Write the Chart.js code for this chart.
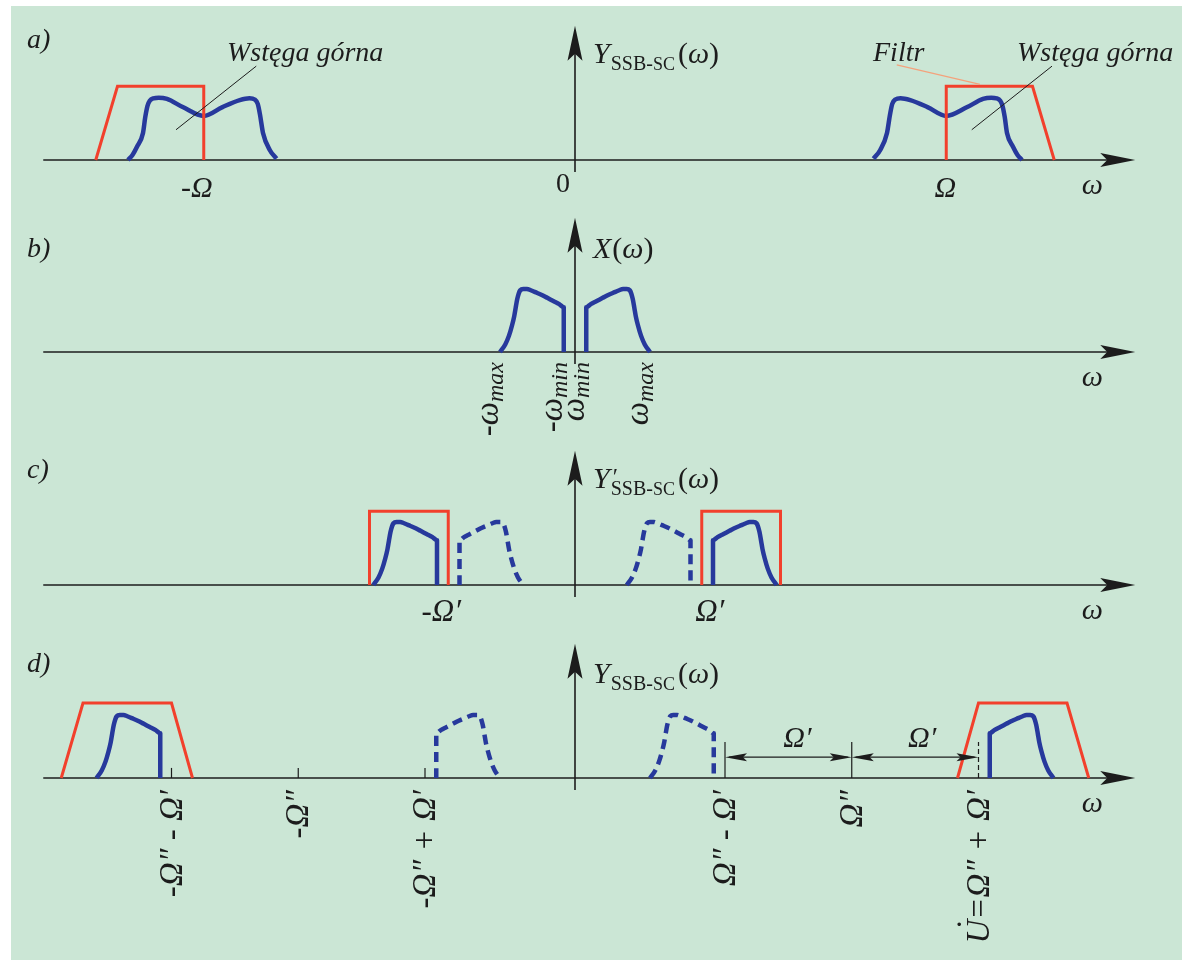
<!DOCTYPE html>
<html lang="pl"><head><meta charset="utf-8"><title>Widmo SSB-SC</title>
<script src="https://cdn.jsdelivr.net/npm/chart.js@4.4.1/dist/chart.umd.min.js"></script>
<style>
html,body{margin:0;padding:0;background:#fff;}
#wrap{position:relative;width:1182px;height:960px;overflow:hidden;background:#fff;}
#bg{position:absolute;left:11px;top:6px;width:1171px;height:954px;background:#cbe6d5;}
canvas.cv{position:absolute;left:0;}
</style></head><body>
<div id="wrap"><div id="bg"></div>
<canvas id="pa" class="cv"></canvas>
<canvas id="pb" class="cv"></canvas>
<canvas id="pc" class="cv"></canvas>
<canvas id="pd" class="cv"></canvas>
</div>
<script>
// ================= DATA (frequencies in units of ω_max, amplitudes normalised to X peak) =================
const W_MIN = 0.15;          // ω_min
const W_MAX = 1.00;          // ω_max
const CARRIER_A = 4.95;      // Ω   (panel a)
const CARRIER_1 = 1.69;      // Ω′  (panel c)
const CARRIER_2 = 3.69;      // Ω″  (panel d)

// baseband spectrum X(ω), ω > 0  (panel b)
const X_FREQ = [0.15, 0.15, 0.21, 0.29, 0.37, 0.45, 0.53, 0.59, 0.64, 0.69, 0.73, 0.75, 0.77, 0.79, 0.81, 0.84, 0.88, 0.93, 1.00];
const X_AMP  = [0.00, 0.71, 0.76, 0.81, 0.86, 0.91, 0.95, 0.98, 1.00, 1.00, 0.98, 0.93, 0.84, 0.71, 0.57, 0.42, 0.26, 0.12, 0.00];

// spectrum around the carrier Ω in panel a (offset from Ω)
const M_FREQ = [-0.97, -0.88, -0.79, -0.75, -0.72, -0.68, -0.61, -0.48, -0.25, 0.00, 0.28, 0.49, 0.60, 0.67, 0.72, 0.75, 0.78, 0.81, 0.89, 0.95, 1.01];
const M_AMP  = [ 0.02,  0.16,  0.43,  0.72,  0.89,  0.96,  0.98,  0.95,  0.84, 0.70, 0.84, 0.97, 0.99, 0.98, 0.94, 0.86, 0.68, 0.43, 0.21, 0.08, 0.00];

// filter characteristics (offset from the carrier they belong to)
const FILTER_A_FREQ = [0.00, 0.00, 1.15, 1.44];
const FILTER_A_AMP  = [0.00, 1.17, 1.17, 0.00];
const FILTER_C_FREQ = [0.00, 0.00, 1.05, 1.05];
const FILTER_C_AMP  = [0.00, 1.17, 1.17, 0.00];
const FILTER_D_FREQ = [-0.28, 0.00, 1.18, 1.47];
const FILTER_D_AMP  = [0.00, 1.19, 1.19, 0.00];

// tick labels
const TICK_POS_A = [-CARRIER_A, 0, CARRIER_A];
const TICK_LABELS_A = ['-Ω', '0', 'Ω'];
const TICK_POS_B = [-W_MAX, -W_MIN, W_MIN, W_MAX];
const TICK_LABELS_B = ['-ω_max', '-ω_min', 'ω_min', 'ω_max'];
const TICK_POS_C = [-CARRIER_1, CARRIER_1];
const TICK_LABELS_C = ['-Ω′', 'Ω′'];
const TICK_POS_D = [-(CARRIER_2 + CARRIER_1), -CARRIER_2, -CARRIER_2 + CARRIER_1, CARRIER_2 - CARRIER_1, CARRIER_2, CARRIER_2 + CARRIER_1];
const TICK_LABELS_D = ['-Ω″ - Ω′', '-Ω″', '-Ω″ + Ω′', 'Ω″ - Ω′', 'Ω″', 'U=Ω″ + Ω′'];
const TITLES = ['a)', 'b)', 'c)', 'd)'];
const ANNOT_WSTEGA = 'Wstęga górna';
const ANNOT_FILTR = 'Filtr';
const DIM_LABEL = 'Ω′';

// ================= LAYOUT / STYLE =================
const PAGE_W = 1182, ZERO_PX = 575, PX_PER_W = 75, PX_PER_A = 63;
const PANEL = {
  a: {top: 0,   h: 205, base: 160},
  b: {top: 205, h: 245, base: 352},
  c: {top: 450, h: 185, base: 585},
  d: {top: 635, h: 325, base: 778}
};
const AXIS_W_FROM = -7.09, AXIS_W_TO = 7.47, AXIS_A_TOP = 2.13, AXIS_A_BOTTOM = -0.19;
const BLUE = '#27399c', RED = '#f2402c', INK = '#1c1c1c', ORANGE = '#f4a27c';
const SERIF = '"Liberation Serif","DejaVu Serif",serif';
const I = n => `italic ${n}px ${SERIF}`;
const R = n => `${n}px ${SERIF}`;

function shift(freqs, amps, center, sign) {
  const pts = freqs.map((f, i) => ({x: center + sign * f, y: amps[i]}));
  return sign < 0 ? pts.reverse() : pts;
}
function blueDs(pts, dashed) {
  return {data: pts, borderColor: BLUE, borderWidth: 4.5, cubicInterpolationMode: 'monotone',
    borderDash: dashed ? [10, 6] : [], pointRadius: 0, fill: false, borderJoinStyle: 'round'};
}
function redDs(pts) {
  return {data: pts, borderColor: RED, borderWidth: 3, tension: 0, pointRadius: 0, fill: false, borderJoinStyle: 'miter'};
}

// rich text: parts = [{t, f, dy, dx, ox, adv}]
function rich(ctx, x, y, parts, align) {
  ctx.save();
  let w = 0;
  parts.forEach(p => { ctx.font = p.f; p.w = ctx.measureText(p.t).width; if (p.adv !== false) w += p.w + (p.dx || 0); });
  let sx = x + (align === 'center' ? -w / 2 : align === 'right' ? -w : 0);
  ctx.textBaseline = 'alphabetic'; ctx.textAlign = 'left'; ctx.fillStyle = INK;
  parts.forEach(p => {
    ctx.font = p.f;
    ctx.fillText(p.t, sx + (p.dx || 0) + (p.ox || 0), y + (p.dy || 0));
    if (p.adv !== false) sx += p.w + (p.dx || 0);
  });
  ctx.restore();
}
function rotRich(ctx, x, y, parts) {
  ctx.save(); ctx.translate(x, y); ctx.rotate(-Math.PI / 2);
  rich(ctx, 0, 0, parts, 'right'); ctx.restore();
}
function arrowHead(ctx, tx, ty, dx, dy, len, half, notch) {
  const bx = tx - dx * len, by = ty - dy * len, px = -dy, py = dx;
  ctx.beginPath(); ctx.moveTo(tx, ty);
  ctx.lineTo(bx + px * half, by + py * half);
  ctx.lineTo(tx - dx * (len - notch), ty - dy * (len - notch));
  ctx.lineTo(bx - px * half, by - py * half);
  ctx.closePath(); ctx.fill();
}
function seg(ctx, x1, y1, x2, y2) { ctx.beginPath(); ctx.moveTo(x1, y1); ctx.lineTo(x2, y2); ctx.stroke(); }

function drawAxes(c) {
  const ctx = c.ctx, X = c.scales.x, Y = c.scales.y;
  const y0 = Y.getPixelForValue(0), x0 = X.getPixelForValue(0);
  const xl = X.getPixelForValue(AXIS_W_FROM), xr = X.getPixelForValue(AXIS_W_TO);
  const yt = Y.getPixelForValue(AXIS_A_TOP), yb = Y.getPixelForValue(AXIS_A_BOTTOM);
  ctx.save(); ctx.strokeStyle = INK; ctx.fillStyle = INK; ctx.lineWidth = 1.6;
  seg(ctx, xl, y0, xr - 25, y0);
  arrowHead(ctx, xr, y0, 1, 0, 35, 7, 7);
  seg(ctx, x0, yb, x0, yt + 25);
  arrowHead(ctx, x0, yt, 0, -1, 35, 7.5, 7);
  ctx.restore();
}
function ylabel(ctx, x, y, prime, main) {
  const parts = [{t: main === 'X' ? 'X' : 'Y', f: I(30)}];
  if (main === 'X') {
    parts.push({t: '(', f: R(30), dx: 1}, {t: 'ω', f: I(30)}, {t: ')', f: R(30)});
  } else {
    if (prime) parts.push({t: '′', f: R(24), dy: -4, ox: 3, adv: false});
    parts.push({t: 'SSB-', f: R(20), dy: 7, dx: 1}, {t: 'SC', f: R(18), dy: 7},
               {t: '(', f: R(30), dx: 3}, {t: 'ω', f: I(30)}, {t: ')', f: R(30)});
  }
  rich(ctx, x, y, parts, 'left');
}
function partsFromLabel(s, big, sub) {
  const k = s.indexOf('_');
  if (k < 0) return [{t: s, f: I(big)}];
  return [{t: s.slice(0, k), f: I(big)}, {t: s.slice(k + 1), f: I(sub), dy: 5}];
}
function partsD(s, size) {
  // the letter U carries a dot above it
  if (s[0] === 'U') return [{t: 'U', f: I(size)}, {t: '˙', f: I(size), adv: false, ox: -12, dy: -9}, {t: s.slice(1), f: I(size)}];
  return [{t: s, f: I(size)}];
}

function makeChart(id, panel, datasets, decor) {
  const cv = document.getElementById(id);
  cv.width = PAGE_W; cv.height = panel.h; cv.style.top = panel.top + 'px';
  return new Chart(cv, {
    type: 'line',
    data: {datasets},
    options: {
      responsive: false, animation: false, devicePixelRatio: 1, events: [],
      layout: {padding: 0},
      plugins: {legend: {display: false}, tooltip: {enabled: false}, title: {display: false}},
      scales: {
        x: {type: 'linear', display: false, min: -ZERO_PX / PX_PER_W, max: (PAGE_W - ZERO_PX) / PX_PER_W},
        y: {type: 'linear', display: false, min: -(panel.top + panel.h - panel.base) / PX_PER_A, max: (panel.base - panel.top) / PX_PER_A}
      },
      elements: {point: {radius: 0}}
    },
    plugins: [{id: 'decor', beforeDatasetsDraw(c) { drawAxes(c); }, afterDatasetsDraw(c) { decor(c, c.ctx, c.scales.x, c.scales.y, panel); }}]
  });
}

// ---------- panel a ----------
makeChart('pa', PANEL.a, [
  redDs(shift(FILTER_A_FREQ, FILTER_A_AMP, -CARRIER_A, -1)),
  redDs(shift(FILTER_A_FREQ, FILTER_A_AMP, CARRIER_A, 1)),
  blueDs(shift(M_FREQ, M_AMP, -CARRIER_A, -1), false),
  blueDs(shift(M_FREQ, M_AMP, CARRIER_A, 1), false)
], (c, ctx, X, Y, p) => {
  const L = v => v - p.top;
  ctx.save(); ctx.lineWidth = 1; ctx.strokeStyle = INK;
  seg(ctx, X.getPixelForValue(-CARRIER_A + 0.70), Y.getPixelForValue(1.49), X.getPixelForValue(-CARRIER_A - 0.37), Y.getPixelForValue(0.48));
  seg(ctx, X.getPixelForValue(CARRIER_A + 1.41), Y.getPixelForValue(1.49), X.getPixelForValue(CARRIER_A + 0.34), Y.getPixelForValue(0.48));
  ctx.strokeStyle = ORANGE; ctx.lineWidth = 1.3;
  seg(ctx, X.getPixelForValue(CARRIER_A - 0.66), Y.getPixelForValue(1.51), X.getPixelForValue(CARRIER_A + 0.45), Y.getPixelForValue(1.20));
  ctx.restore();
  rich(ctx, 27, L(48), [{t: TITLES[0], f: I(28)}], 'left');
  ylabel(ctx, X.getPixelForValue(0) + 18, L(63), false, 'Y');
  const offs = [-7, -12, -1];
  TICK_POS_A.forEach((w, i) => rich(ctx, X.getPixelForValue(w) + offs[i], L(i === 1 ? 192 : 197),
    [{t: TICK_LABELS_A[i], f: i === 1 ? R(28) : I(30)}], 'center'));
  rich(ctx, X.getPixelForValue(AXIS_W_TO) - 43, L(194), [{t: 'ω', f: I(30)}], 'center');
  rich(ctx, 227, L(61), [{t: ANNOT_WSTEGA, f: I(28)}], 'left');
  rich(ctx, 1017, L(61), [{t: ANNOT_WSTEGA, f: I(28)}], 'left');
  rich(ctx, 873, L(61), [{t: ANNOT_FILTR, f: I(28)}], 'left');
});

// ---------- panel b ----------
makeChart('pb', PANEL.b, [
  blueDs(shift(X_FREQ, X_AMP, 0, -1), false),
  blueDs(shift(X_FREQ, X_AMP, 0, 1), false)
], (c, ctx, X, Y, p) => {
  const L = v => v - p.top;
  rich(ctx, 27, L(257), [{t: TITLES[1], f: I(28)}], 'left');
  ylabel(ctx, X.getPixelForValue(0) + 18, L(258), false, 'X');
  rich(ctx, X.getPixelForValue(AXIS_W_TO) - 43, L(386), [{t: 'ω', f: I(30)}], 'center');
  TICK_POS_B.forEach((w, i) => rotRich(ctx, X.getPixelForValue(w) - 2, L(362), partsFromLabel(TICK_LABELS_B[i], 33, 24)));
});

// ---------- panel c ----------
makeChart('pc', PANEL.c, [
  redDs(shift(FILTER_C_FREQ, FILTER_C_AMP, -CARRIER_1, -1)),
  redDs(shift(FILTER_C_FREQ, FILTER_C_AMP, CARRIER_1, 1)),
  blueDs(shift(X_FREQ, X_AMP, -CARRIER_1, -1), false),
  blueDs(shift(X_FREQ, X_AMP, -CARRIER_1, 1), true),
  blueDs(shift(X_FREQ, X_AMP, CARRIER_1, -1), true),
  blueDs(shift(X_FREQ, X_AMP, CARRIER_1, 1), false)
], (c, ctx, X, Y, p) => {
  const L = v => v - p.top;
  rich(ctx, 27, L(478), [{t: TITLES[2], f: I(28)}], 'left');
  ylabel(ctx, X.getPixelForValue(0) + 18, L(488), true, 'Y');
  const offs = [-7, 8];
  TICK_POS_C.forEach((w, i) => rich(ctx, X.getPixelForValue(w) + offs[i], L(621), [{t: TICK_LABELS_C[i], f: I(31)}], 'center'));
  rich(ctx, X.getPixelForValue(AXIS_W_TO) - 43, L(619), [{t: 'ω', f: I(30)}], 'center');
});

// ---------- panel d ----------
makeChart('pd', PANEL.d, [
  redDs(shift(FILTER_D_FREQ, FILTER_D_AMP, -(CARRIER_2 + CARRIER_1), -1)),
  redDs(shift(FILTER_D_FREQ, FILTER_D_AMP, CARRIER_2 + CARRIER_1, 1)),
  blueDs(shift(X_FREQ, X_AMP, -(CARRIER_2 + CARRIER_1), -1), false),
  blueDs(shift(X_FREQ, X_AMP, -CARRIER_2 + CARRIER_1, 1), true),
  blueDs(shift(X_FREQ, X_AMP, CARRIER_2 - CARRIER_1, -1), true),
  blueDs(shift(X_FREQ, X_AMP, CARRIER_2 + CARRIER_1, 1), false)
], (c, ctx, X, Y, p) => {
  const L = v => v - p.top;
  const y0 = Y.getPixelForValue(0);
  ctx.save(); ctx.strokeStyle = INK; ctx.fillStyle = INK; ctx.lineWidth = 1.2;
  // small ticks on the negative side
  [0, 1, 2].forEach(i => seg(ctx, X.getPixelForValue(TICK_POS_D[i]), y0, X.getPixelForValue(TICK_POS_D[i]), Y.getPixelForValue(0.16)));
  // dimension ticks and arrows
  const xa = X.getPixelForValue(TICK_POS_D[3]), xb = X.getPixelForValue(TICK_POS_D[4]), xc = X.getPixelForValue(TICK_POS_D[5]);
  const yt = Y.getPixelForValue(0.57), ym = Y.getPixelForValue(0.33);
  seg(ctx, xa, y0, xa, yt); seg(ctx, xb, y0, xb, yt);
  ctx.setLineDash([5, 3]); seg(ctx, xc, y0, xc, yt); ctx.setLineDash([]);
  seg(ctx, xa + 4, ym, xb - 4, ym); seg(ctx, xb + 4, ym, xc - 4, ym);
  arrowHead(ctx, xa, ym, -1, 0, 22, 4, 4); arrowHead(ctx, xb, ym, 1, 0, 22, 4, 4);
  arrowHead(ctx, xb, ym, -1, 0, 22, 4, 4); arrowHead(ctx, xc, ym, 1, 0, 22, 4, 4);
  ctx.restore();
  rich(ctx, (xa + xb) / 2 + 9, L(747), [{t: DIM_LABEL, f: I(30)}], 'center');
  rich(ctx, (xb + xc) / 2 + 7, L(747), [{t: DIM_LABEL, f: I(30)}], 'center');
  rich(ctx, 27, L(672), [{t: TITLES[3], f: I(28)}], 'left');
  ylabel(ctx, X.getPixelForValue(0) + 18, L(683), false, 'Y');
  rich(ctx, X.getPixelForValue(AXIS_W_TO) - 43, L(812), [{t: 'ω', f: I(30)}], 'center');
  TICK_POS_D.forEach((w, i) => rotRich(ctx, X.getPixelForValue(w) + 10, L(790), partsD(TICK_LABELS_D[i], 33)));
});
</script>
</body></html>
